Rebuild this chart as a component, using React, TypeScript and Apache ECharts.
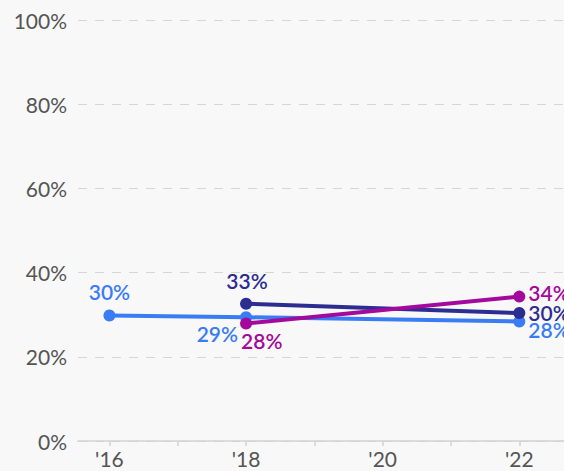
import React, { useEffect, useRef } from "react";
import * as echarts from "echarts";

// Survey years shown on the x axis
const years = [16, 18, 22];
const yearLabels = [16, 18, 20, 22];
const yearTicks = [16, 17, 18, 19, 20, 21, 22];
const yTicks = [0, 20, 40, 60, 80, 100];

// Shares (%) per series, aligned with `years`; null where no value exists
const seriesBlue = [29.8, 29.4, 28.4];
const seriesNavy = [null, 32.6, 30.4];
const seriesMagenta = [null, 27.9, 34.3];

const BLUE = "#3a7cf4";
const NAVY = "#2c2d91";
const MAGENTA = "#a3099c";

type LabelSpot = { align: "left" | "center" | "right"; offset: [number, number] };

// Label placement for each point, relative to the point centre
const blueSpots: LabelSpot[] = [
  { align: "center", offset: [0, -24] },
  { align: "right", offset: [-8, 16] },
  { align: "left", offset: [9, 8] },
];
const navySpots: LabelSpot[] = [
  { align: "center", offset: [0, 0] },
  { align: "center", offset: [1, -23] },
  { align: "left", offset: [9, -1] },
];
const magentaSpots: LabelSpot[] = [
  { align: "center", offset: [0, 0] },
  { align: "left", offset: [-5, 17] },
  { align: "left", offset: [9, -4] },
];

function buildSeries(name: string, values: (number | null)[], color: string, spots: LabelSpot[]) {
  const data = years
    .map((y, i) => ({ y, v: values[i], spot: spots[i] }))
    .filter((d) => d.v !== null)
    .map((d) => ({
      value: [d.y, d.v as number],
      label: {
        show: true,
        position: "inside",
        align: d.spot.align,
        verticalAlign: "middle",
        offset: d.spot.offset,
        formatter: (p: any) => `${Math.round(p.value[1])}%`,
        color,
        fontFamily: "Lato",
        fontSize: 21,
        fontWeight: 600,
      },
    }));
  return {
    name,
    type: "line",
    data,
    symbol: "circle",
    symbolSize: 12,
    showAllSymbol: true,
    clip: false,
    lineStyle: { color, width: 4 },
    itemStyle: { color },
    emphasis: { disabled: true },
  };
}

export default function App() {
  const ref = useRef<HTMLDivElement>(null);

  useEffect(() => {
    if (!ref.current) return;
    const chart = echarts.init(ref.current, null, { renderer: "svg" });
    chart.setOption({
      animation: false,
      backgroundColor: "#f8f8f8",
      grid: { left: 78, right: 0, top: 20, bottom: 30 },
      xAxis: {
        type: "value",
        min: 15.54,
        max: 22.654,
        splitLine: { show: false },
        axisLine: { show: true, lineStyle: { color: "#d2d2d2", width: 1.5 } },
        axisTick: {
          show: true,
          customValues: yearTicks,
          length: 5,
          lineStyle: { color: "#d2d2d2", width: 1.5 },
        },
        axisLabel: {
          customValues: yearLabels,
          formatter: (v: number) => `'${v}`,
          color: "#555555",
          fontFamily: "Lato",
          fontSize: 21,
          margin: 7,
        },
      },
      yAxis: {
        type: "value",
        min: yTicks[0],
        max: yTicks[yTicks.length - 1],
        interval: 20,
        axisLine: { show: false },
        axisTick: { show: false },
        axisLabel: {
          formatter: "{value}%",
          color: "#555555",
          fontFamily: "Lato",
          fontSize: 21,
          margin: 11,
        },
        splitLine: {
          show: true,
          lineStyle: { color: "#d6d6d6", width: 1, type: [9, 8] },
        },
      },
      series: [
        buildSeries("blue", seriesBlue, BLUE, blueSpots),
        buildSeries("navy", seriesNavy, NAVY, navySpots),
        buildSeries("magenta", seriesMagenta, MAGENTA, magentaSpots),
      ],
    });
    return () => chart.dispose();
  }, []);

  return (
    <div
      ref={ref}
      style={{ position: "absolute", left: 0, top: 0, width: 564, height: 471 }}
    />
  );
}
